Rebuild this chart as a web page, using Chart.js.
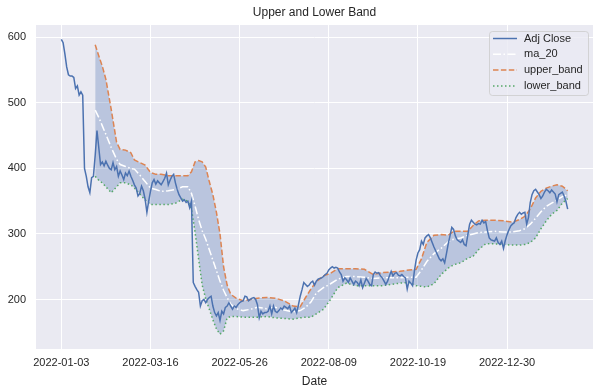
<html>
<head>
  <script src="https://cdn.jsdelivr.net/npm/chart.js@4.4.0/dist/chart.umd.min.js"></script>
</head>

<body style="padding: 0; margin: 0; background: #fff;">

<canvas id="chart" width="602" height="391"></canvas>

<script>
  // x axis is the trading-day index, ticks every 50 rows
  const tickIdx = [0, 50, 100, 150, 200, 250]
  const tickLabels = ['2022-01-03', '2022-03-16', '2022-05-26', '2022-08-09', '2022-10-19', '2022-12-30']
  const yTicks = [200, 300, 400, 500, 600]

  // Adj Close, one value per trading day (index 0..284)
  const adjClose = [
    597, 592, 575, 555, 543, 541, 541, 539, 522, 526,
    512, 517, 512, 400, 388, 372, 363, 386, 388, 420,
    458, 432, 406, 410, 404, 411, 405, 400, 398, 409,
    398, 403, 388, 396, 390, 383, 393, 389, 396, 388,
    382, 375, 370, 358, 362, 373, 366, 353, 333, 350,
    365, 378, 383, 376, 381, 378, 375, 380, 385, 393,
    375, 382, 388, 391, 378, 368, 360, 355, 350, 352,
    348, 350, 340, 350, 226, 220, 215, 211, 190, 198,
    200, 195, 200, 203, 205, 190, 180, 175, 180, 168,
    182, 178, 188, 190, 195, 190, 185, 190, 188, 192,
    195, 197, 198, 205, 204, 198, 200, 202, 203, 200,
    192, 172, 182, 178, 180, 180, 182, 190, 178, 190,
    182, 180, 183, 187, 185, 190, 188, 186, 190, 180,
    183, 187, 180, 192, 205, 215, 226, 223, 220, 222,
    226, 228, 222, 228, 231, 232, 233, 235, 238, 240,
    245, 248, 250, 248, 249, 248, 242, 238, 228, 233,
    230, 226, 233, 228, 223, 228, 226, 221, 230, 218,
    225, 232, 228, 223, 221, 238, 242, 240, 241, 236,
    233, 228, 223, 228, 236, 243, 236, 240, 241, 237,
    236, 238, 235, 233, 216, 228, 225, 221, 243, 260,
    271, 276, 289, 284, 294, 297, 299, 294, 287, 280,
    274, 268, 262, 259, 262, 256, 270, 285, 297, 310,
    307, 297, 291, 289, 287, 291, 284, 282, 299, 315,
    321, 318, 315, 314, 316, 315, 321, 317, 319, 305,
    294, 291, 290, 289, 294, 287, 284, 289, 278, 290,
    299, 306, 312, 315, 317, 325, 330, 333, 330, 332,
    333, 315, 325, 348, 360, 366, 368, 364, 360, 354,
    358, 364, 368, 366, 363, 367, 364, 361, 349, 360,
    362, 364, 358, 350, 338,
  ]

  // rolling band, read at these day indexes
  const bandIdx = [
    19, 21, 23, 25, 28, 31, 33, 36, 39, 41, 44, 47, 50, 53, 56, 60, 64, 68, 71, 73,
    75, 77, 79, 81, 83, 85, 87, 89, 91, 93, 95, 98, 102, 106, 110, 115, 120, 125, 130, 134,
    137, 140, 143, 147, 151, 155, 160, 165, 170, 175, 180, 185, 190, 195, 199, 202, 205, 209, 213, 217,
    220, 224, 228, 231, 234, 238, 243, 248, 253, 257, 260, 263, 266, 269, 272, 275, 278, 281, 284,
  ]
  const ma20 = [
    489, 478, 465, 452, 432, 414, 406, 403, 400, 399, 390, 380, 370, 368, 365, 366, 368, 372, 372, 362,
    343, 322, 305, 292, 276, 260, 244, 228, 214, 203, 193, 186, 183, 185, 188, 186, 188, 184, 181, 183,
    188, 196, 210, 218, 224, 231, 235, 235, 234, 232, 233, 233, 233, 234, 234, 245, 258, 270, 278, 288,
    292, 294, 298, 300, 302, 303, 304, 303, 303, 305, 308, 315, 324, 334, 342, 347, 352, 357, 360,
  ]
  const upperBand = [
    589, 572, 556, 536, 490, 440, 429, 428, 424, 413, 409, 405, 394, 391, 391, 389, 389, 389, 389, 395,
    410, 412, 410, 402, 380, 360, 333, 300, 250, 222, 208, 202, 198, 200, 202, 203, 202, 198, 190, 189,
    203, 216, 227, 236, 240, 247, 247, 247, 246, 238, 241, 242, 243, 245, 246, 262, 287, 298, 299, 298,
    304, 304, 304, 313, 320, 321, 321, 320, 318, 322, 327, 338, 355, 365, 370, 373, 375, 373, 366,
  ]
  const lowerBand = [
    388, 382, 378, 372, 363, 372, 378, 378, 375, 370, 361, 352, 345, 345, 345, 345, 347, 353, 350, 338,
    303, 262, 222, 201, 185, 169, 155, 147, 152, 172, 174, 174, 173, 173, 173, 174, 172, 171, 170, 172,
    173, 173, 178, 185, 200, 218, 225, 221, 221, 221, 221, 223, 225, 226, 221, 220, 219, 224, 238, 248,
    253, 256, 263, 266, 276, 285, 285, 284, 283, 283, 284, 287, 294, 308, 320, 330, 336, 347, 354,
  ]

  const font = "'Liberation Sans', Arial, sans-serif"
  const textColor = '#262626'

  const toPoints = (xs, ys) => ys.map((y, i) => ({x: xs[i], y}))

  const plotBackground = {
    id: 'plotBackground',
    beforeDraw(chart) {
      const {ctx, chartArea: a} = chart
      ctx.save()
      ctx.fillStyle = '#eaeaf2'
      ctx.fillRect(a.left, a.top, a.width, a.height)
      ctx.restore()
    }
  }

  // matplotlib-style legend box in the upper right corner of the plot
  const bandLegend = {
    id: 'bandLegend',
    afterDraw(chart) {
      const {ctx, chartArea: a} = chart
      const x0 = a.right - 104, y0 = a.top + 6, w = 99, h = 64
      ctx.save()
      ctx.beginPath()
      ctx.roundRect(x0 + 0.5, y0 + 0.5, w, h, 3)
      ctx.fillStyle = 'rgba(234,234,242,0.8)'
      ctx.fill()
      ctx.strokeStyle = 'rgba(204,204,204,0.8)'
      ctx.lineWidth = 1
      ctx.stroke()
      chart.data.datasets.forEach((ds, i) => {
        const y = y0 + 7.5 + i * 15.8
        ctx.beginPath()
        ctx.setLineDash(ds.borderDash || [])
        ctx.strokeStyle = ds.borderColor
        ctx.lineWidth = ds.borderWidth
        ctx.moveTo(x0 + 4, y)
        ctx.lineTo(x0 + 28, y)
        ctx.stroke()
        ctx.setLineDash([])
        ctx.fillStyle = textColor
        ctx.font = `11px ${font}`
        ctx.textBaseline = 'middle'
        ctx.textAlign = 'left'
        ctx.fillText(ds.label, x0 + 35, y)
      })
      ctx.restore()
    }
  }

  new Chart(document.getElementById('chart').getContext('2d'), {
    type: 'line',
    data: {
      datasets: [
        {label: 'Adj Close', data: adjClose.map((y, i) => ({x: i, y})), borderColor: '#4c72b0', borderWidth: 1.5, fill: false},
        {label: 'ma_20', data: toPoints(bandIdx, ma20), borderColor: '#ffffff', borderWidth: 1.5, borderDash: [8, 2.5, 1.5, 2.5], fill: false},
        {label: 'upper_band', data: toPoints(bandIdx, upperBand), borderColor: '#dd8452', borderWidth: 1.5, borderDash: [5.5, 2.4], fill: false},
        {label: 'lower_band', data: toPoints(bandIdx, lowerBand), borderColor: '#55a868', borderWidth: 1.5, borderDash: [1.5, 2.5], fill: '-1', backgroundColor: 'rgba(76,114,176,0.3)'},
      ]
    },
    options: {
      responsive: false,
      animation: false,
      parsing: false,
      elements: {point: {radius: 0}, line: {tension: 0}},
      layout: {padding: {right: 9}},
      plugins: {
        legend: {display: false},
        tooltip: {enabled: false},
        title: {
          display: true,
          text: 'Upper and Lower Band',
          fullSize: false,
          color: textColor,
          font: {family: font, size: 12, weight: 'normal'},
          padding: {top: 5, bottom: 5.6},
        },
      },
      scales: {
        x: {
          type: 'linear',
          min: -14.2,
          max: 298.2,
          afterBuildTicks: scale => { scale.ticks = tickIdx.map(v => ({value: v})) },
          afterFit: scale => { scale.height = 42 },
          grid: {color: '#ffffff', lineWidth: 1, drawTicks: false},
          border: {display: false},
          ticks: {
            padding: 7,
            color: textColor,
            font: {family: font, size: 11},
            maxRotation: 0,
            autoSkip: false,
            callback: v => tickLabels[tickIdx.indexOf(v)],
          },
          title: {display: true, text: 'Date', color: textColor, font: {family: font, size: 12}, padding: {top: 0, bottom: 2}},
        },
        y: {
          min: 124.4,
          max: 619,
          afterBuildTicks: scale => { scale.ticks = yTicks.map(v => ({value: v})) },
          afterFit: scale => { scale.width = 36 },
          grid: {color: '#ffffff', lineWidth: 1, drawTicks: false},
          border: {display: false},
          ticks: {padding: 10, color: textColor, font: {family: font, size: 11}, callback: v => String(v)},
        },
      },
    },
    plugins: [plotBackground, bandLegend],
  })
</script>
</body>
</html>
